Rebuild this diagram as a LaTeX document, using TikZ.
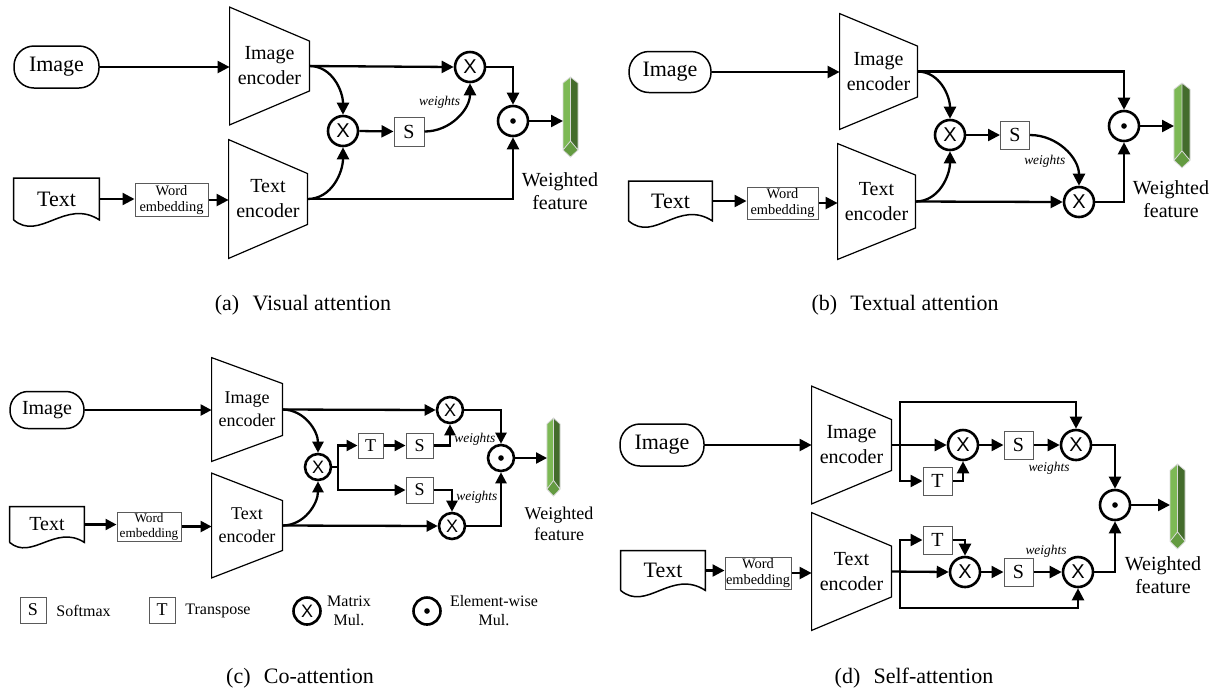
\documentclass[tikz,border=0pt]{standalone}
\usepackage{fontspec}
\setmainfont{Liberation Serif}
\newfontfamily\sansx{Liberation Sans}
\usetikzlibrary{arrows.meta,calc}
\definecolor{gl}{RGB}{125,185,85}
\definecolor{gd}{RGB}{68,108,44}
\definecolor{gm}{RGB}{100,155,65}
\definecolor{bx}{RGB}{90,90,90}
\newcommand\docshape[2]{\draw[docline] (#1.south west) -- (#1.north west) -- (#1.north east) -- (#1.south east) .. controls ($(#1.south east)+(-34*#2,-22*#2)$) and ($(#1.south west)+(26*#2,22*#2)$) .. (#1.south west);}
\newcommand\encshape[2]{\draw[encline] (#1.north west) -- ($(#1.east)+(0,-#2)$) -- ($(#1.east)+(0,#2)$) -- (#1.south west) -- cycle;}
\tikzset{
 conn/.style={line width=1.15pt, -{Triangle[length=6pt,width=6pt]}},
 wire/.style={line width=1.15pt},
 stad/.style={draw, line width=0.75pt, rounded corners=10pt, inner sep=0pt, font=\fontsize{11}{13}\selectfont},
 docn/.style={inner sep=0pt, font=\fontsize{11}{13}\selectfont},
 docline/.style={line width=0.75pt},
 encn/.style={inner sep=0pt, align=center, font=\fontsize{10}{12.5}\selectfont},
 encline/.style={line width=0.6pt},
 web/.style={draw=bx, line width=0.5pt, inner sep=0pt, align=center, font=\fontsize{7.2}{8}\selectfont},
 opbox/.style={draw=bx, line width=0.5pt, inner sep=0pt, font=\fontsize{10}{10}\selectfont},
 mul/.style={circle, draw, line width=1.3pt, inner sep=0pt, minimum size=15pt, font=\sansx\fontsize{10}{10}\selectfont},
 ewm/.style={circle, draw, line width=1.3pt, inner sep=0pt, minimum size=15pt, path picture={\fill (path picture bounding box.center) circle (1.4pt);}},
 wts/.style={inner sep=0.5pt, font=\itshape\fontsize{6.7}{7}\selectfont},
 wf/.style={inner sep=0pt, align=center, font=\fontsize{10}{11.5}\selectfont},
 capt/.style={inner sep=0pt, font=\fontsize{11}{13}\selectfont},
 lgd/.style={inner sep=0pt, align=center, font=\fontsize{8}{9.5}\selectfont},
 gbar/.pic={
  \fill[gl] (-7.5,6) -- (0,0) -- (0,64) -- (-7.5,73) -- cycle;
  \fill[gd] (0,0) -- (7.5,6) -- (7.5,73) -- (0,64) -- cycle;
  \fill[gm] (-7.5,73) -- (0,64) -- (7.5,73) -- (0,80) -- cycle;
  \draw[white!70!gray, line width=0.4pt] (-7.5,6) -- (0,0) -- (7.5,6) -- (7.5,73) -- (0,80) -- (-7.5,73) -- cycle
     (0,0) -- (0,64) -- (-7.5,73) (0,64) -- (7.5,73);
 }
}
\begin{document}
\begin{tikzpicture}[x=0.5pt,y=-0.5pt]
\useasboundingbox (0,0) rectangle (1214,693);

% ================= (a) Visual attention =================
\node[stad,minimum width=42.5pt,minimum height=21pt] (aimg) at (56.5,67) {Image};
\node[docn,minimum width=42.5pt,minimum height=20.5pt] (atxt) at (56.5,199) {Text};
\docshape{atxt}{1}
\node[web,minimum width=36.5pt,minimum height=16.5pt] (awe) at (171.5,200) {Word\\embedding};
\node[encn,minimum width=39.5pt,minimum height=58.5pt] (aie) at (269.5,66) {Image\\encoder};
\encshape{aie}{25}
\node[encn,minimum width=39pt,minimum height=59pt] (ate) at (268,199) {Text\\encoder};
\encshape{ate}{25.5}
\node[mul] (axm) at (343,131) {X};
\node[mul] (ax1) at (470,67) {X};
\node[ewm] (adot) at (513,121) {};
\node[opbox,minimum width=15pt,minimum height=14.5pt] (aS) at (409,131.5) {S};
\pic at (570.5,77) {gbar};
\coordinate (abar) at (563,121);
\node[wf] (awf) at (560,191.5) {Weighted\\feature};
\node[capt] (acap) at (303,305) {(a)\hspace{0.6em}Visual attention};

\draw[conn] (aimg.east) -- (aimg.east -| aie.west);
\draw[conn] (atxt.east) -- (atxt.east -| awe.west);
\draw[conn] (awe.east) -- (awe.east -| ate.west);
\draw[conn] (aie.east) -- (ax1.west);
\draw[conn] (aie.east) to[out=0,in=90] (axm.north);
\draw[conn] (ate.east) to[out=0,in=-90] (axm.south);
\draw[conn] (axm.east) -- (aS.west);
\draw[conn] (aS.east) to[out=0,in=-90] node[wts,pos=0.62,above left=0pt] {weights} (ax1.south);
\draw[conn] (ax1.east) -| (adot.north);
\draw[conn] (ate.east) -| (adot.south);
\draw[conn] (adot.east) -- (abar);

% ================= (b) Textual attention =================
\node[stad,minimum width=41pt,minimum height=20.5pt] (bimg) at (670,72) {Image};
\node[docn,minimum width=41.5pt,minimum height=19.5pt] (btxt) at (670.5,201) {Text};
\docshape{btxt}{1}
\node[web,minimum width=35.5pt,minimum height=16pt] (bwe) at (782.5,203) {Word\\embedding};
\node[encn,minimum width=38.5pt,minimum height=57.5pt] (bie) at (878.5,71.5) {Image\\encoder};
\encshape{bie}{25.5}
\node[encn,minimum width=38.5pt,minimum height=57.5pt] (bte) at (876.5,201.5) {Text\\encoder};
\encshape{bte}{26.5}
\node[mul] (bxm) at (950,135) {X};
\node[opbox,minimum width=14.5pt,minimum height=14pt] (bS) at (1015,135) {S};
\node[mul] (bx2) at (1079,202) {X};
\node[ewm] (bdot) at (1124,126) {};
\pic[xscale=1.07,yscale=1.06] at (1182,83) {gbar};
\coordinate (bbar) at (1174,126);
\node[wf] (bwf) at (1171,199.5) {Weighted\\feature};
\node[capt] (bcap) at (905,305) {(b)\hspace{0.6em}Textual attention};

\draw[conn] (bimg.east) -- (bimg.east -| bie.west);
\draw[conn] (btxt.east) -- (btxt.east -| bwe.west);
\draw[conn] (bwe.east) -- (bwe.east -| bte.west);
\draw[conn] (bie.east) -| (bdot.north);
\draw[conn] (bie.east) to[out=0,in=90] (bxm.north);
\draw[conn] (bte.east) to[out=0,in=-90] (bxm.south);
\draw[conn] (bte.east) -- (bx2.west);
\draw[conn] (bxm.east) -- (bS.west);
\draw[conn] (bS.east) to[out=0,in=90] node[wts,pos=0.55,below left=0pt] {weights} (bx2.north);
\draw[conn] (bx2.east) -| (bdot.south);
\draw[conn] (bdot.east) -- (bbar);

% ================= (c) Co-attention =================
\begin{scope}[stad/.append style={font=\fontsize{10}{12}\selectfont},
              docn/.append style={font=\fontsize{10}{12}\selectfont},
              encn/.append style={font=\fontsize{9}{11.5}\selectfont},
              mul/.append style={minimum size=13pt, font=\sansx\fontsize{9}{9}\selectfont},
              ewm/.append style={minimum size=13pt},
              opbox/.append style={font=\fontsize{9}{9}\selectfont},
              web/.append style={font=\fontsize{6.6}{7.4}\selectfont},
              wf/.append style={font=\fontsize{9}{10.5}\selectfont},
              conn/.append style={-{Triangle[length=5.5pt,width=5.5pt]}}]
\node[stad,minimum width=37pt,minimum height=18.5pt,rounded corners=9pt] (cimg) at (47,410) {Image};
\node[docn,minimum width=37pt,minimum height=17.5pt] (ctxt) at (47,524.5) {Text};
\docshape{ctxt}{0.85}
\node[web,minimum width=32pt,minimum height=14.5pt] (cwe) at (149,526.5) {Word\\embedding};
\node[encn,minimum width=35pt,minimum height=51.5pt] (cie) at (247,409.5) {Image\\encoder};
\encshape{cie}{26}
\node[encn,minimum width=35pt,minimum height=52pt] (cte) at (247,525.5) {Text\\encoder};
\encshape{cte}{25}
\node[mul] (cxm) at (318,467) {X};
\node[mul] (cx1) at (450,410) {X};
\node[mul] (cx2) at (452,526) {X};
\node[ewm] (cdot) at (501,458) {};
\node[opbox,minimum width=12.5pt,minimum height=12.5pt] (cT) at (370.5,445.5) {T};
\node[opbox,minimum width=13.5pt,minimum height=12.5pt] (cS1) at (419.5,445.5) {S};
\node[opbox,minimum width=13.5pt,minimum height=13pt] (cS2) at (419.5,490) {S};
\coordinate (cbr) at (338,467);
\pic[xscale=0.87,yscale=0.975] at (553.5,418) {gbar};
\coordinate (cbar) at (547,458);
\node[wf] (cwf) at (559,523.5) {Weighted\\feature};

\draw[conn] (cimg.east) -- (cimg.east -| cie.west);
\draw[conn] (ctxt.east) -- (ctxt.east -| cwe.west);
\draw[conn] (cwe.east) -- (cwe.east -| cte.west);
\draw[conn] (cie.east) -- (cx1.west);
\draw[conn] (cie.east) to[out=0,in=90] (cxm.north);
\draw[conn] (cte.east) -- (cx2.west);
\draw[conn] (cte.east) to[out=0,in=-90] (cxm.south);
\draw[wire] (cxm.east) -- (cbr);
\draw[conn] (cbr) |- (cT.west);
\draw[conn] (cbr) |- (cS2.west);
\draw[conn] (cT.east) -- (cS1.west);
\draw[conn] (cS1.east) -| (cx1.south);
\draw[conn] (cS2.east) -| (cx2.north);
\node[wts,anchor=west] (cw1) at (453,439) {weights};
\node[wts,anchor=west] (cw2) at (455,497) {weights};
\draw[conn] (cx1.east) -| (cdot.north);
\draw[conn] (cx2.east) -| (cdot.south);
\draw[conn] (cdot.east) -- (cbar);

% legend
\node[opbox,minimum width=13pt,minimum height=13pt] (lS) at (33,610) {S};
\node[lgd,anchor=west] (lSt) at (56,611) {Softmax};
\node[opbox,minimum width=13pt,minimum height=13pt] (lT) at (162,610) {T};
\node[lgd,anchor=west] (lTt) at (185,611) {Transpose};
\node[mul,minimum size=13.5pt] (lX) at (307,611) {X};
\node[lgd] (lXt) at (349,611) {Matrix\\Mul.};
\node[ewm,minimum size=13.5pt] (lD) at (427,611) {};
\node[lgd] (lDt) at (494,611) {Element-wise\\Mul.};
\end{scope}
\node[capt] (ccap) at (300,678) {(c)\hspace{0.6em}Co-attention};

% ================= (d) Self-attention =================
\node[stad,minimum width=42pt,minimum height=21pt] (dimg) at (662,445) {Image};
\node[docn,minimum width=42pt,minimum height=19.5pt] (dtxt) at (663,570.5) {Text};
\docshape{dtxt}{1}
\node[web,minimum width=33pt,minimum height=16pt] (dwe) at (758,573) {Word\\embedding};
\node[encn,minimum width=39.5pt,minimum height=58.5pt] (die) at (851.5,445) {Image\\encoder};
\encshape{die}{25.5}
\node[encn,minimum width=39.5pt,minimum height=58.5pt] (dte) at (851.5,571.5) {Text\\encoder};
\encshape{dte}{25.5}
\node[mul] (dx1) at (963,445) {X};
\node[opbox,minimum width=14.5pt,minimum height=14pt] (dS1) at (1018.5,445) {S};
\node[mul] (dx2) at (1076,445) {X};
\node[opbox,minimum width=14.5pt,minimum height=14pt] (dT1) at (937.5,481) {T};
\node[mul] (dx3) at (965,572) {X};
\node[opbox,minimum width=14.5pt,minimum height=14pt] (dS2) at (1018.5,572) {S};
\node[mul] (dx4) at (1078,572) {X};
\node[opbox,minimum width=14.5pt,minimum height=14pt] (dT2) at (937.5,540) {T};
\node[ewm] (ddot) at (1115,505) {};
\coordinate (dbr1) at (900,445);
\coordinate (dbr2) at (900,572);
\pic[xscale=1.0,yscale=1.06] at (1177.5,464) {gbar};
\coordinate (dbar) at (1170,505);
\node[wf] (dwf) at (1163,575.5) {Weighted\\feature};
\node[wts] (dw1) at (1049,468) {weights};
\node[wts] (dw2) at (1046,551) {weights};
\node[capt] (dcap) at (914,678) {(d)\hspace{0.6em}Self-attention};

\draw[conn] (dimg.east) -- (dimg.east -| die.west);
\draw[conn] (dtxt.east) -- (dtxt.east -| dwe.west);
\draw[conn] (dwe.east) -- (dwe.east -| dte.west);
\draw[conn] (die.east) -- (dx1.west);
\draw[conn] (dbr1) -- ++(0,-43) -| (dx2.north);
\draw[conn] (dbr1) |- (dT1.west);
\draw[conn] (dT1.east) -| (dx1.south);
\draw[conn] (dx1.east) -- (dS1.west);
\draw[conn] (dS1.east) -- (dx2.west);
\draw[conn] (dx2.east) -| (ddot.north);
\draw[conn] (dte.east) -- (dx3.west);
\draw[conn] (dbr2) |- (dT2.west);
\draw[conn] (dbr2) -- ++(0,36) -| (dx4.south);
\draw[conn] (dT2.east) -| (dx3.north);
\draw[conn] (dx3.east) -- (dS2.west);
\draw[conn] (dS2.east) -- (dx4.west);
\draw[conn] (dx4.east) -| (ddot.south);
\draw[conn] (ddot.east) -- (dbar);
\end{tikzpicture}
\end{document}
